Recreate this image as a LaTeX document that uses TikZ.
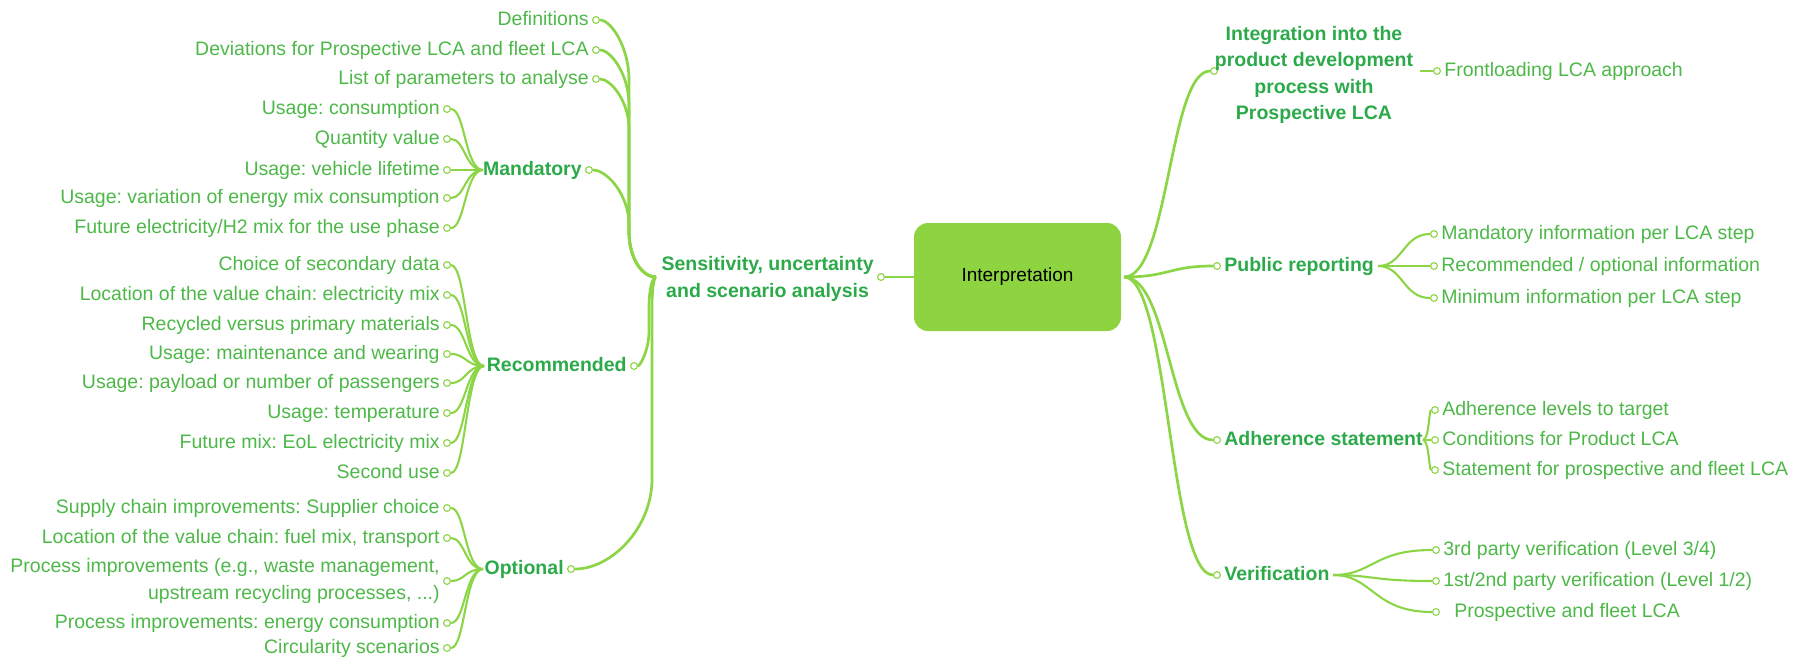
\documentclass[tikz,border=0pt]{standalone}
\usepackage{fontspec}
\setmainfont{Liberation Sans}
\usetikzlibrary{calc,positioning,backgrounds}
\definecolor{lineg}{HTML}{8CD546}
\definecolor{leafc}{HTML}{4DB848}
\definecolor{topicc}{HTML}{2CAA4A}
\definecolor{boxg}{HTML}{8DD440}
\frenchspacing
% smooth branch leaving a hub to the left / to the right
\newcommand\brL[4][conn]{\draw[#1] (#2) .. controls ($(#2)+(-#4,0)$) and ($(#2 |- #3)+(-#4,0)$) .. (#3);}
\newcommand\brR[4][conn]{\draw[#1] (#2) .. controls ($(#2)+(#4,0)$) and ($(#2 |- #3)+(#4,0)$) .. (#3);}
% brace-like branch: hub #2, end #3, horizontal offset of the vertical run #4,
% vertical direction #5 (-1 up, +1 down), hub bend #6, end bend #7, end handle #8
\newcommand\brB[8][mainconn]{\draw[#1] (#2)
  .. controls ($(#2)+(0.55*#4,0)$) and ($(#2)+(#4,#5*0.45*#6)$) .. ($(#2)+(#4,#5*#6)$)
  -- ($(#2 |- #3)+(#4,-#5*#7)$)
  .. controls ($(#2 |- #3)+(#4,-#5*0.45*#7)$) and ($(#3)+(#8,0)$) .. (#3);}
\begin{document}
\begin{tikzpicture}[x=0.5pt,y=-0.5pt,
  dot/.style={circle, draw=lineg, fill=white, line width=0.55pt, inner sep=0pt, minimum size=3.4pt},
  oneline/.style={text height=7pt, text depth=2pt},
  leaf/.style={font=\fontsize{9.75}{12.5}\selectfont, text=leafc, inner sep=1pt},
  topic/.style={font=\bfseries\fontsize{9.75}{13.2}\selectfont, text=topicc, inner sep=1pt},
  conn/.style={draw=lineg, line width=1.05pt},
  mainconn/.style={draw=lineg, line width=1.35pt},
  centre/.style={rectangle, rounded corners=7pt, fill=boxg, minimum width=103.5pt, minimum height=54pt,
    font=\fontsize{9.5}{11}\selectfont, text=black}]
\useasboundingbox (0,0) rectangle (1805,660);

% ---------- central topic ----------
\node[centre] (box) at (1017.5,277) {Interpretation};
\coordinate (rhub) at (1124,277);
\coordinate (lhub) at (656,277);

% ---------- left main topic ----------
\node[dot] (dSens) at (881,277) {};
\node[topic, align=center, anchor=east] (tSens) at (876,279) {Sensitivity, uncertainty\\and scenario analysis};

\node[dot] (dDef) at (596,20) {};
\node[leaf, oneline, left=0.5pt of dDef] (tDef) {Definitions};
\node[dot] (dDev) at (596,50) {};
\node[leaf, oneline, left=0.5pt of dDev] (tDev) {Deviations for Prospective LCA and fleet LCA};
\node[dot] (dList) at (596,79) {};
\node[leaf, oneline, left=0.5pt of dList] (tList) {List of parameters to analyse};

\node[dot] (dMan) at (589,170) {};
\node[topic, oneline, left=0.5pt of dMan] (tMan) {Mandatory};
\coordinate (mtip) at (483,170);
\node[dot] (dRec) at (634,366) {};
\node[topic, oneline, left=0.5pt of dRec] (tRec) {Recommended};
\coordinate (rtip) at (484,366);
\node[dot] (dOpt) at (571,569) {};
\node[topic, oneline, left=0.5pt of dOpt] (tOpt) {Optional};
\coordinate (otip) at (483,569);

% mandatory parameters
\node[dot] (m1) at (447,109) {};
\node[leaf, oneline, left=0.5pt of m1] {Usage: consumption};
\node[dot] (m2) at (447,139) {};
\node[leaf, oneline, left=0.5pt of m2] {Quantity value};
\node[dot] (m3) at (447,170) {};
\node[leaf, oneline, left=0.5pt of m3] {Usage: vehicle lifetime};
\node[dot] (m4) at (447,198) {};
\node[leaf, oneline, left=0.5pt of m4] {Usage: variation of energy mix consumption};
\node[dot] (m5) at (447,228) {};
\node[leaf, oneline, left=0.5pt of m5] {Future electricity/H2 mix for the use phase};

% recommended parameters
\node[dot] (r1) at (447,265) {};
\node[leaf, oneline, left=0.5pt of r1] {Choice of secondary data};
\node[dot] (r2) at (447,295) {};
\node[leaf, oneline, left=0.5pt of r2] {Location of the value chain: electricity mix};
\node[dot] (r3) at (447,325) {};
\node[leaf, oneline, left=0.5pt of r3] {Recycled versus primary materials};
\node[dot] (r4) at (447,354) {};
\node[leaf, oneline, left=0.5pt of r4] {Usage: maintenance and wearing};
\node[dot] (r5) at (447,383) {};
\node[leaf, oneline, left=0.5pt of r5] {Usage: payload or number of passengers};
\node[dot] (r6) at (447,413) {};
\node[leaf, oneline, left=0.5pt of r6] {Usage: temperature};
\node[dot] (r7) at (447,443) {};
\node[leaf, oneline, left=0.5pt of r7] {Future mix: EoL electricity mix};
\node[dot] (r8) at (447,473) {};
\node[leaf, oneline, left=0.5pt of r8] {Second use};

% optional parameters
\node[dot] (o1) at (447,508) {};
\node[leaf, oneline, left=0.5pt of o1] {Supply chain improvements: Supplier choice};
\node[dot] (o2) at (447,538) {};
\node[leaf, oneline, left=0.5pt of o2] {Location of the value chain: fuel mix, transport};
\node[dot] (o3) at (447,581) {};
\node[leaf, align=right, font=\fontsize{9.75}{13.8}\selectfont, left=0.5pt of o3] {Process improvements (e.g., waste management,\\upstream recycling processes, ...)};
\node[dot] (o4) at (447,623) {};
\node[leaf, oneline, left=0.5pt of o4] {Process improvements: energy consumption};
\node[dot] (o5) at (447,648) {};
\node[leaf, oneline, left=0.5pt of o5] {Circularity scenarios};

% ---------- right main topics ----------
\node[dot] (dInt) at (1214,71) {};
\node[topic, align=center, inner sep=3pt] (tInt) at (1314,75) {Integration into the\\product development\\process with\\Prospective LCA};
\node[dot] (dFl) at (1437,71) {};
\node[leaf, oneline, right=0.5pt of dFl] {Frontloading LCA approach};

\node[dot] (dPub) at (1217,266) {};
\node[topic, oneline, right=0.5pt of dPub] (tPub) {Public reporting};
\coordinate (ptip) at (1378,266);
\node[dot] (p1) at (1434,234) {};
\node[leaf, oneline, right=0.5pt of p1] {Mandatory information per LCA step};
\node[dot] (p2) at (1434,266) {};
\node[leaf, oneline, right=0.5pt of p2] {Recommended / optional information};
\node[dot] (p3) at (1434,298) {};
\node[leaf, oneline, right=0.5pt of p3] {Minimum information per LCA step};

\node[dot] (dAdh) at (1217,440) {};
\node[topic, oneline, right=0.5pt of dAdh] (tAdh) {Adherence statement};
\coordinate (atip) at (1423,440);
\node[dot] (a1) at (1435,410) {};
\node[leaf, oneline, right=0.5pt of a1] {Adherence levels to target};
\node[dot] (a2) at (1435,440) {};
\node[leaf, oneline, right=0.5pt of a2] {Conditions for Product LCA};
\node[dot] (a3) at (1435,470) {};
\node[leaf, oneline, right=0.5pt of a3] {Statement for prospective and fleet LCA};

\node[dot] (dVer) at (1217,575) {};
\node[topic, oneline, right=0.5pt of dVer] (tVer) {Verification};
\coordinate (vtip) at (1333,575);
\node[dot] (v1) at (1436,550) {};
\node[leaf, oneline, right=0.5pt of v1] {3rd party verification (Level 3/4)};
\node[dot] (v2) at (1436,581) {};
\node[leaf, oneline, right=0.5pt of v2] {1st/2nd party verification (Level 1/2)};
\node[dot] (v3) at (1436,612) {};
\node[leaf, oneline, right=6pt of v3] {Prospective and fleet LCA};

% ---------- connectors ----------
\begin{pgfonlayer}{background}
  \draw[mainconn] (dSens) -- (box);
  % left brace
  \brB{lhub}{dDef}{-27}{-1}{45}{60}{15}
  \brB{lhub}{dDev}{-27}{-1}{45}{55}{15}
  \brB{lhub}{dList}{-27}{-1}{45}{50}{15}
  \brB{lhub}{dMan}{-27}{-1}{45}{55}{18}
  \brB{lhub}{dRec}{-7}{1}{30}{35}{6}
  \brB{lhub}{dOpt}{-4}{1}{30}{90}{40}
  % parameter fans
  \foreach \n in {m1,m2,m3,m4,m5} {\brL{mtip}{\n}{18}}
  \foreach \n in {r1,r2,r3,r4,r5,r6,r7,r8} {\brL{rtip}{\n}{18}}
  \foreach \n in {o1,o2,o3,o4,o5} {\brL{otip}{\n}{18}}

  % right side
  \brR[mainconn]{rhub}{dInt}{45}
  \brR[mainconn]{rhub}{dPub}{45}
  \brR[mainconn]{rhub}{dAdh}{45}
  \brR[mainconn]{rhub}{dVer}{45}
  \draw[conn] (tInt.east |- dFl) -- (dFl);
  \foreach \n in {p1,p2,p3} {\brR{ptip}{\n}{25}}
  \foreach \n in {a1,a2,a3} {\brR{atip}{\n}{6}}
  \foreach \n in {v1,v2,v3} {\brR{vtip}{\n}{40}}
\end{pgfonlayer}
\end{tikzpicture}
\end{document}
